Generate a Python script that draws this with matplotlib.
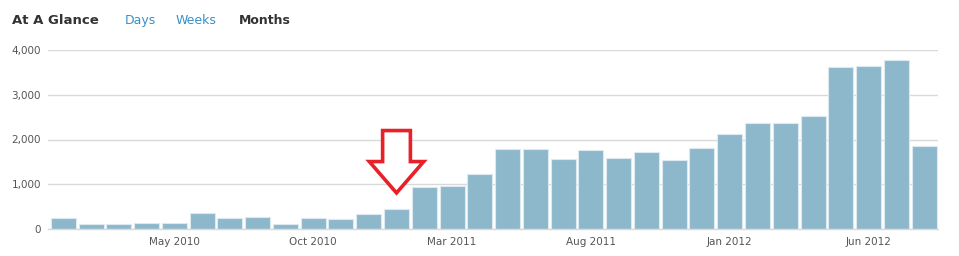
import numpy as np
import matplotlib
matplotlib.use("Agg")
import matplotlib.pyplot as plt
from matplotlib.patches import Polygon

# monthly totals, Jan 2010 .. Aug 2012
months = ["Jan 2010", "Feb 2010", "Mar 2010", "Apr 2010", "May 2010", "Jun 2010",
          "Jul 2010", "Aug 2010", "Sep 2010", "Oct 2010", "Nov 2010", "Dec 2010",
          "Jan 2011", "Feb 2011", "Mar 2011", "Apr 2011", "May 2011", "Jun 2011",
          "Jul 2011", "Aug 2011", "Sep 2011", "Oct 2011", "Nov 2011", "Dec 2011",
          "Jan 2012", "Feb 2012", "Mar 2012", "Apr 2012", "May 2012", "Jun 2012",
          "Jul 2012", "Aug 2012"]
values = [246, 119, 119, 134, 134, 351, 246, 261, 119, 246, 224, 336,
          440, 940, 970, 1231, 1791, 1791, 1567, 1776, 1597, 1716, 1545, 1821,
          2127, 2358, 2373, 2530, 3612, 3649, 3776, 1851]
tick_labels = ["May 2010", "Oct 2010", "Mar 2011", "Aug 2011", "Jan 2012", "Jun 2012"]
y_ticks = [0, 1000, 2000, 3000, 4000]
marked_month = "Jan 2011"

fig = plt.figure(figsize=(9.59, 2.56), dpi=100)
ax = fig.add_axes([48 / 959, 1 - 229 / 256, 890 / 959, 179 / 256])

x = np.arange(len(months))
ax.bar(x, values, width=0.9, color="#8db8cc", edgecolor="#dce9f0", linewidth=0.8, zorder=2)

ax.set_xlim(-0.55, len(months) - 0.5)
ax.set_ylim(0, 4000)
ax.set_yticks(y_ticks)
ax.set_yticklabels([f"{v:,}" for v in y_ticks])
ax.set_xticks([months.index(m) for m in tick_labels])
ax.set_xticklabels(tick_labels)
ax.tick_params(axis="both", length=0, labelsize=7.5, labelcolor="#555555")
ax.tick_params(axis="y", pad=5)
ax.tick_params(axis="x", pad=6)
ax.grid(axis="y", color="#d9d9d9", linewidth=1, zorder=0)
ax.set_axisbelow(True)
for s in ["top", "right", "left"]:
    ax.spines[s].set_visible(False)
ax.spines["bottom"].set_color("#d9d9d9")
ax.spines["bottom"].set_linewidth(1)

# red hollow arrow pointing at the marked month
cx = months.index(marked_month)
arrow = Polygon([(cx - 0.5, 2200), (cx + 0.5, 2200), (cx + 0.5, 1507), (cx + 0.98, 1507),
                 (cx, 806), (cx - 0.98, 1507), (cx - 0.5, 1507)],
                closed=True, facecolor="white", edgecolor="#e8202a", linewidth=2.6,
                joinstyle="miter", zorder=5)
ax.add_patch(arrow)

base = 1 - 24 / 256
fig.text(12 / 959, base, "At A Glance", fontsize=9.5, fontweight="bold",
         color="#333333", va="baseline")
fig.text(125 / 959, base, "Days", fontsize=9, color="#3a8fc6", va="baseline")
fig.text(176 / 959, base, "Weeks", fontsize=9, color="#3a8fc6", va="baseline")
fig.text(239 / 959, base, "Months", fontsize=9, fontweight="bold",
         color="#333333", va="baseline")

fig.savefig("out.png", dpi=100)
